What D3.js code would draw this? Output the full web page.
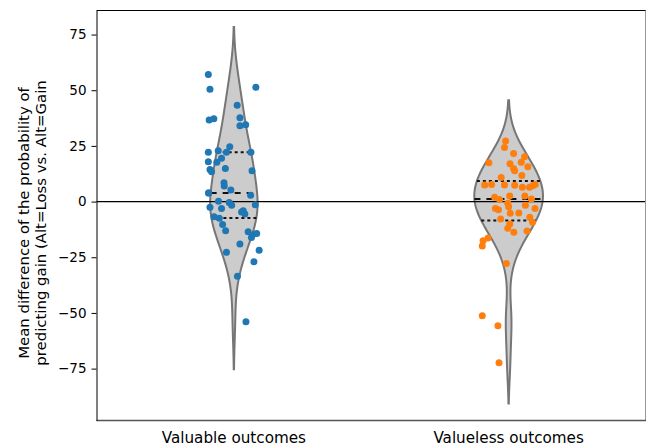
<!DOCTYPE html>
<html><head><meta charset="utf-8">
<script src="https://cdn.jsdelivr.net/npm/d3@7"></script>
<style>body{margin:0;background:#fff} text{font-family:"DejaVu Sans",sans-serif}</style>
</head><body><svg id="c" width="647" height="446"></svg>
<script>
const categories = ["Valuable outcomes", "Valueless outcomes"];
const valuableValues = [57.1,50.4,51.3,43.2,36.6,37.2,37.6,34.0,34.5,22.2,22.8,24.6,22.2,22.1,17.9,19.5,17.7,14.4,13.4,14.9,13.8,8.4,7.0,5.2,3.8,3.8,2.8,0.1,-0.4,-1.6,-1.4,-2.6,-3.1,-4.7,-4.1,-5.6,-6.8,-7.5,-10.3,-13.1,-13.6,-15.0,-14.3,-16.1,-19.1,-21.8,-22.8,-27.0,-33.5,-54.0];
const valuableJitter = [-0.093,-0.087,0.080,0.012,-0.090,-0.073,0.022,0.022,0.043,-0.093,-0.057,-0.015,-0.027,0.062,-0.093,-0.045,-0.062,-0.087,-0.081,-0.031,0.066,-0.036,-0.035,-0.011,-0.092,-0.092,0.061,-0.056,-0.017,-0.008,0.078,-0.087,-0.045,0.028,0.034,0.040,-0.072,-0.053,-0.041,-0.030,0.052,0.068,0.083,0.064,0.022,0.092,-0.027,0.073,0.013,0.044];
const valuelessValues = [27.2,24.3,21.6,17.4,20.1,17.0,14.9,17.7,15.6,11.7,10.8,7.5,7.7,7.5,7.3,6.4,6.4,7.1,7.7,2.0,2.5,2.5,0.9,-0.8,1.2,-3.1,-3.7,-2.3,-1.6,-3.1,-5.2,-5.1,-7.8,-7.0,-9.3,-10.1,-12.0,-13.8,-13.2,-16.3,-17.6,-19.9,-27.8,-51.3,-55.8,-72.4,13.8];
const valuelessJitter = [-0.011,-0.015,0.018,-0.072,0.058,0.005,0.018,0.046,0.070,0.048,-0.027,-0.087,-0.062,-0.015,0.022,0.050,0.076,0.088,0.097,-0.051,0.004,0.059,-0.033,-0.003,0.083,-0.048,-0.037,0.000,0.061,0.096,0.006,0.037,-0.029,0.077,0.087,0.004,-0.003,0.019,0.067,-0.075,-0.093,-0.096,-0.008,-0.096,-0.039,-0.035,0.022];
const yTicks = [-75, -50, -25, 0, 25, 50, 75];
const pointColors = ["#1f77b4", "#ff7f0e"];
const yLabelLines = ["Mean difference of the probability of", "predicting gain (Alt=Loss vs. Alt=Gain"];

const groups = [
  {cat: categories[0], values: valuableValues, jitter: valuableJitter, color: pointColors[0]},
  {cat: categories[1], values: valuelessValues, jitter: valuelessJitter, color: pointColors[1]}
];

const svg = d3.select("#c");
const L = 96.5, R = 646, T = 10.5, B = 420.5;
const x = d3.scalePoint().domain(categories).range([L, R]).padding(0.5);
const step = x.step();
const y = d3.scaleLinear().domain([-98.3, 85.8]).range([B, T]);

// KDE (gaussian, Scott's rule, cut=2)
function kde(values) {
  const n = values.length;
  const sd = d3.deviation(values);
  const bw = sd * Math.pow(n, -1 / 5);
  const lo = d3.min(values) - 2 * bw, hi = d3.max(values) + 2 * bw;
  const grid = d3.range(0, 201).map(i => lo + (hi - lo) * i / 200);
  const dens = grid.map(g => d3.sum(values, v => Math.exp(-0.5 * ((g - v) / bw) ** 2)) / (n * bw * Math.sqrt(2 * Math.PI)));
  return {grid, dens, bw};
}
groups.forEach(g => { g.k = kde(g.values); });
const maxD = d3.max(groups, g => d3.max(g.k.dens));
const halfW = 0.125 * step; // width 0.25
const wScale = d3.scaleLinear().domain([0, maxD]).range([0, halfW]);

function densAt(g, v) {
  const {grid, dens} = g.k;
  const i = d3.bisectLeft(grid, v);
  if (i <= 0) return dens[0];
  if (i >= grid.length) return dens[grid.length - 1];
  const t = (v - grid[i - 1]) / (grid[i] - grid[i - 1]);
  return dens[i - 1] + t * (dens[i] - dens[i - 1]);
}

const plot = svg.append("g");
groups.forEach(g => {
  const cx = x(g.cat);
  const pts = g.k.grid.map((v, i) => [v, g.k.dens[i]]);
  const area = d3.area().x0(d => cx - wScale(d[1])).x1(d => cx + wScale(d[1])).y(d => y(d[0])).curve(d3.curveLinear);
  plot.append("path").datum(pts).attr("d", area)
    .attr("fill", "#cccccc").attr("stroke", "#767676").attr("stroke-width", 2);
  const sorted = g.values.slice().sort(d3.ascending);
  const qs = [0.25, 0.5, 0.75].map(p => d3.quantileSorted(sorted, p));
  qs.forEach((q, i) => {
    const w = wScale(densAt(g, q));
    plot.append("line").attr("x1", cx - w).attr("x2", cx + w).attr("y1", y(q)).attr("y2", y(q))
      .attr("stroke", "#111").attr("stroke-width", 2)
      .attr("stroke-dasharray", i === 1 ? "6,6" : "3,3");
  });
});

// zero line
svg.append("line").attr("x1", L).attr("x2", R).attr("y1", y(0)).attr("y2", y(0))
  .attr("stroke", "#000").attr("stroke-width", 1.3);

// points
groups.forEach(g => {
  const cx = x(g.cat);
  svg.append("g").selectAll("circle").data(g.values).join("circle")
    .attr("cx", (d, i) => cx + g.jitter[i] * step)
    .attr("cy", d => y(d))
    .attr("r", 3.5)
    .attr("fill", g.color);
});

// spines
svg.append("line").attr("x1", L).attr("x2", R).attr("y1", T).attr("y2", T).attr("stroke", "#000").attr("stroke-width", 1);
svg.append("line").attr("x1", R - 0.5).attr("x2", R - 0.5).attr("y1", T).attr("y2", B).attr("stroke", "#999").attr("stroke-width", 1);
svg.append("line").attr("x1", L).attr("x2", R).attr("y1", B).attr("y2", B).attr("stroke", "#555").attr("stroke-width", 1.5);

// y axis
const yAxis = svg.append("g").attr("transform", `translate(${L},0)`)
  .call(d3.axisLeft(y).tickValues(yTicks).tickSize(5).tickPadding(5).tickSizeOuter(0));
yAxis.select(".domain").attr("stroke", "#000").attr("stroke-width", 1);
yAxis.selectAll("text").attr("font-size", 13.5).attr("fill", "#000").attr("font-family", "DejaVu Sans");
yAxis.selectAll("line").attr("stroke", "#000");

// x labels
svg.append("g").selectAll("text").data(categories).join("text")
  .attr("x", d => x(d)).attr("y", 443).attr("text-anchor", "middle")
  .attr("font-size", 15.2).attr("fill", "#000").text(d => d);

// y label
const yl = svg.append("text").attr("transform", "translate(0,223) rotate(-90)")
  .attr("text-anchor", "middle").attr("font-size", 14.9).attr("fill", "#000");
yLabelLines.forEach((t, i) => yl.append("tspan").attr("x", 0).attr("y", 29 + i * 17).text(t));
</script></body></html>
